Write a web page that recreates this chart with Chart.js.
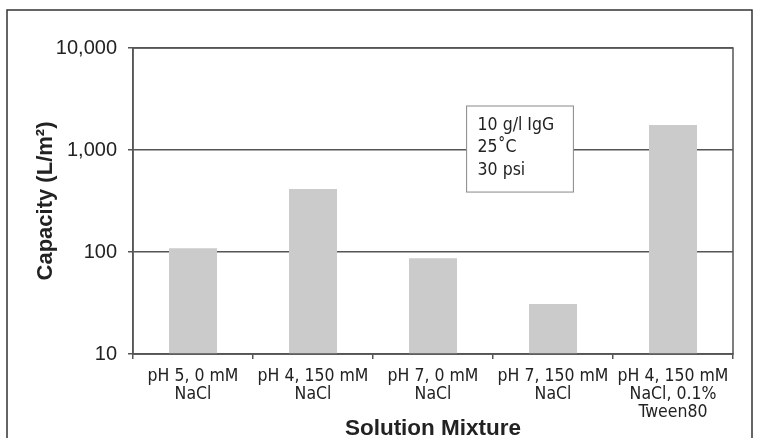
<!DOCTYPE html>
<html>
<head>
<meta charset="utf-8">
<script src="https://cdn.jsdelivr.net/npm/chart.js@4"></script>
<style>
  html, body { margin: 0; padding: 0; background: #fff; }
  #wrap { width: 759px; height: 438px; }
</style>
</head>
<body>
<div id="wrap"><canvas id="capChart" width="759" height="438"></canvas></div>
<script>
// categories (multi-line tick labels)
const mixtures = [
  ["pH 5, 0 mM", "NaCl"],
  ["pH 4, 150 mM", "NaCl"],
  ["pH 7, 0 mM", "NaCl"],
  ["pH 7, 150 mM", "NaCl"],
  ["pH 4, 150 mM", "NaCl, 0.1%", "Tween80"],
];
// capacity in L/m2
const capacity = [109, 415, 87, 31, 1760];
const yTicks = [10, 100, 1000, 10000];
// note box text and its anchor (category index / value)
const noteLines = ["10 g/l IgG", "25\u02DAC", "30 psi"];
const noteBox = { x0: 2.28, x1: 3.17, yTop: 2700, yBottom: 387 };

const ink = "#222";
const gridCol = "#555";
const narrow = '"Liberation Sans Narrow", "DejaVu Sans Condensed", sans-serif';

// outer frame + plot box + the condition note
const framePlugin = {
  id: "frame",
  afterDraw(chart) {
    const c = chart.ctx;
    const a = chart.chartArea;
    c.save();
    c.strokeStyle = "#333";
    c.lineWidth = 1.5;
    c.beginPath();
    c.moveTo(7, 438);
    c.lineTo(7, 10);
    c.lineTo(752, 10);
    c.lineTo(752, 438);
    c.stroke();

    c.strokeStyle = gridCol;
    c.lineWidth = 1.5;
    c.strokeRect(a.left, a.top, a.right - a.left, a.bottom - a.top);

    // note box
    const xs = chart.scales.x, ys = chart.scales.y;
    const l = xs.getPixelForValue(noteBox.x0);
    const r = xs.getPixelForValue(noteBox.x1);
    const t = ys.getPixelForValue(noteBox.yTop);
    const b = ys.getPixelForValue(noteBox.yBottom);
    c.fillStyle = "#fff";
    c.fillRect(l, t, r - l, b - t);
    c.strokeStyle = "#888";
    c.lineWidth = 1;
    c.strokeRect(l, t, r - l, b - t);
    c.fillStyle = ink;
    c.font = "17.5px " + narrow;
    c.textBaseline = "middle";
    c.textAlign = "left";
    noteLines.forEach((s, i) => c.fillText(s, l + 11, t + 19 + i * 22.5));
    c.restore();
  },
};

new Chart(document.getElementById("capChart"), {
  type: "bar",
  data: {
    labels: mixtures,
    datasets: [
      {
        data: capacity,
        backgroundColor: "#cbcbcb",
        borderWidth: 0,
        barPercentage: 0.4,
        categoryPercentage: 1,
      },
    ],
  },
  options: {
    responsive: false,
    animation: false,
    layout: { padding: { left: 0, top: 48, right: 26, bottom: 0 } },
    plugins: {
      legend: { display: false },
      tooltip: { enabled: false },
    },
    scales: {
      x: {
        offset: true,
        grid: {
          offset: true,
          drawOnChartArea: false,
          drawTicks: true,
          tickLength: 5,
          color: gridCol,
          lineWidth: 1.5,
        },
        border: { color: gridCol, width: 1.5 },
        ticks: {
          color: ink,
          padding: 8,
          maxRotation: 0,
          autoSkip: false,
          font: { family: narrow, size: 17.5, lineHeight: 1.03 },
        },
        title: {
          display: true,
          text: "Solution Mixture",
          color: ink,
          padding: { top: 0, bottom: 0 },
          font: { family: '"Liberation Sans", Arial, sans-serif', size: 22.5, weight: "bold", lineHeight: 0.85 },
        },
        afterFit(scale) { scale.height = 84; },
      },
      y: {
        type: "logarithmic",
        min: 10,
        max: 10000,
        afterBuildTicks(scale) { scale.ticks = yTicks.map((v) => ({ value: v })); },
        grid: { color: gridCol, lineWidth: 1.5, tickLength: 5 },
        border: { color: gridCol, width: 1.5 },
        ticks: {
          color: ink,
          padding: 11,
          font: { family: '"Liberation Sans", Arial, sans-serif', size: 20 },
          callback: (v) => Number(v).toLocaleString("en-US"),
        },
        title: {
          display: true,
          text: "Capacity (L/m\u00B2)",
          color: ink,
          padding: { top: 35, bottom: 0 },
          font: { family: '"Liberation Sans", Arial, sans-serif', size: 22, weight: "bold", lineHeight: 1 },
        },
        afterFit(scale) { scale.width = 133; },
      },
    },
  },
  plugins: [framePlugin],
});
</script>
</body>
</html>
